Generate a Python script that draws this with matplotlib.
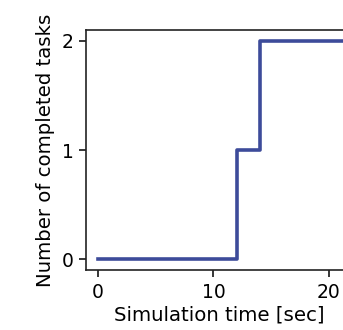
import matplotlib
matplotlib.use("Agg")
import matplotlib.pyplot as plt

time_sec = [0, 12, 14, 22]
completed = [0, 1, 2, 2]
x_ticks = [0, 10, 20]
y_ticks = [0, 1, 2]

fig = plt.figure(figsize=(3.43, 3.30), dpi=100)
ax = fig.add_axes([86/343, 1-270/330, (352-86)/343, 240/330])
ax.step(time_sec, completed, where="post", color="#3d4b9a", linewidth=2.6)
ax.set_xlim(-1.04, 22.0)
ax.set_ylim(-0.1, 2.1)
ax.set_xticks(x_ticks)
ax.set_yticks(y_ticks)
for s in ax.spines.values():
    s.set_linewidth(1.2)
    s.set_color("#222222")
ax.tick_params(labelsize=13.5, length=5, width=1.1, pad=4)
ax.set_xlabel("Simulation time [sec]", fontsize=14.2, labelpad=3)
ax.set_ylabel("Number of completed tasks", fontsize=14.2, labelpad=5)
fig.savefig("out.png", dpi=100)
